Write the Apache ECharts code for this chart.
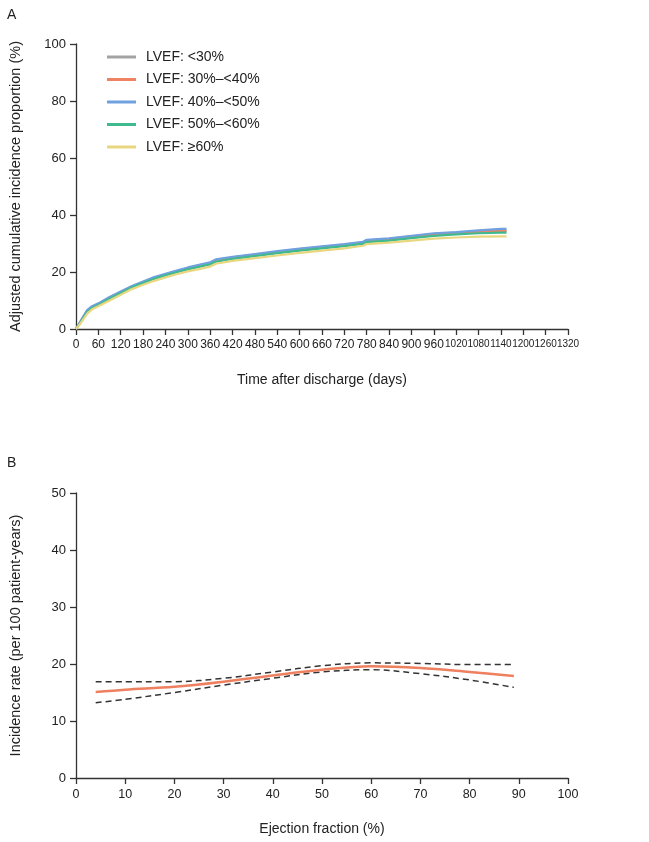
<!DOCTYPE html>
<html>
<head>
<meta charset="utf-8">
<script src="https://cdn.jsdelivr.net/npm/echarts@6/dist/echarts.min.js"></script>
<style>html,body{margin:0;padding:0;background:#fff;}#c{width:649px;height:842px;}</style>
</head>
<body>
<div id="c"></div>
<script>
// Panel A data
const days = [0, 10, 20, 30, 43, 60, 90, 120, 150, 180, 210, 240, 270, 300, 330, 360, 375, 420, 480, 540, 600, 660, 720, 770, 780, 840, 900, 960, 1020, 1080, 1140, 1155];
const lvefLt30 = [0, 2, 4, 6, 7.6, 8.6, 10.8, 12.8, 14.8, 16.3, 17.8, 19.0, 20.1, 21.1, 22.0, 22.9, 23.8, 24.8, 25.8, 26.8, 27.7, 28.5, 29.3, 30.2, 30.8, 31.3, 32.2, 33.0, 33.6, 34.0, 34.3, 34.3];
const lvef30to40 = [0, 2.2, 4.3, 6.4, 7.8, 8.8, 11.0, 13.0, 14.9, 16.5, 18.0, 19.2, 20.3, 21.4, 22.3, 23.2, 24.2, 25.1, 26.1, 27.1, 28.0, 28.8, 29.6, 30.4, 31.1, 31.6, 32.5, 33.3, 33.8, 34.2, 34.5, 34.5];
const lvef40to50 = [0, 2.3, 4.5, 6.6, 8.0, 9.0, 11.2, 13.2, 15.1, 16.7, 18.2, 19.4, 20.5, 21.6, 22.5, 23.4, 24.4, 25.3, 26.3, 27.3, 28.2, 29.0, 29.8, 30.6, 31.3, 31.8, 32.7, 33.6, 34.0, 34.6, 35.1, 35.1];
const lvef50to60 = [0, 1.9, 3.9, 5.9, 7.4, 8.4, 10.6, 12.6, 14.6, 16.1, 17.6, 18.8, 19.9, 20.9, 21.8, 22.7, 23.6, 24.6, 25.6, 26.6, 27.5, 28.3, 29.1, 29.9, 30.5, 31.0, 31.9, 32.7, 33.2, 33.6, 33.8, 33.8];
const lvefGe60 = [0, 1.6, 3.5, 5.4, 6.9, 8.0, 10.0, 12.0, 14.0, 15.5, 16.9, 18.1, 19.2, 20.2, 21.0, 21.9, 22.9, 23.9, 24.9, 25.8, 26.7, 27.5, 28.3, 29.2, 29.8, 30.3, 31.0, 31.7, 32.1, 32.4, 32.5, 32.5];
const seriesNames = ['LVEF: <30%', 'LVEF: 30%\u2013<40%', 'LVEF: 40%\u2013<50%', 'LVEF: 50%\u2013<60%', 'LVEF: \u226560%'];

// Panel B data
const efX = [4, 10, 20, 30, 40, 50, 60, 70, 80, 89];
const rate = [15.1, 15.5, 16.0, 16.9, 18.0, 19.0, 19.6, 19.3, 18.6, 17.9];
const rateUpper = [16.9, 16.9, 16.9, 17.5, 18.6, 19.7, 20.2, 20.1, 19.9, 19.9];
const rateLower = [13.2, 13.8, 15.0, 16.3, 17.5, 18.6, 19.0, 18.3, 17.2, 15.9];

const colors = ['#a3a3a3', '#ee8262', '#6fa0e0', '#3fba8f', '#e9d780'];
const FONT = 'Liberation Sans, Arial, Helvetica, sans-serif';
const pair = (xs, ys) => xs.map((x, i) => [x, ys[i]]);
const aSeries = [lvefLt30, lvef30to40, lvef40to50, lvef50to60, lvefGe60];

const axisCommon = {
  axisLine: { show: true, lineStyle: { color: '#333', width: 1.3 } },
  axisTick: { show: true, length: 6, lineStyle: { color: '#333', width: 1.3 } },
  splitLine: { show: false },
  nameTextStyle: { color: '#222', fontSize: 14, fontFamily: FONT },
};

const chart = echarts.init(document.getElementById('c'), null, { renderer: 'canvas' });
chart.setOption({
  animation: false,
  backgroundColor: '#fff',
  textStyle: { fontFamily: FONT },
  title: [
    { text: 'A', left: 2, top: 3, textStyle: { fontSize: 14, fontWeight: 'normal', color: '#222', fontFamily: FONT } },
    { text: 'B', left: 2, top: 451, textStyle: { fontSize: 14, fontWeight: 'normal', color: '#222', fontFamily: FONT } }
  ],
  legend: {
    data: seriesNames,
    orient: 'vertical',
    left: 102,
    top: 45,
    itemWidth: 29,
    itemHeight: 3,
    itemGap: 8.5,
    icon: 'rect',
    textStyle: { fontSize: 14, color: '#222', fontFamily: FONT, padding: [0, 0, 0, 5] }
  },
  grid: [
    { left: 75, top: 44, width: 493, height: 285, containLabel: false },
    { left: 75, top: 493, width: 493, height: 285, containLabel: false }
  ],
  xAxis: [
    Object.assign({}, axisCommon, {
      gridIndex: 0, type: 'value', min: 0, max: 1320, interval: 60,
      name: 'Time after discharge (days)', nameLocation: 'middle', nameGap: 44,
      axisLabel: {
        color: '#222', margin: 10, interval: 0, fontFamily: FONT, hideOverlap: false,
        showMaxLabel: true, showMinLabel: true,
        formatter: v => (v >= 1000 ? '{s|' + v + '}' : '{m|' + v + '}'),
        rich: { s: { fontSize: 10, fontFamily: FONT, color: '#222' }, m: { fontSize: 12, fontFamily: FONT, color: '#222' } }
      }
    }),
    Object.assign({}, axisCommon, {
      gridIndex: 1, type: 'value', min: 0, max: 100, interval: 10,
      name: 'Ejection fraction (%)', nameLocation: 'middle', nameGap: 44,
      axisLabel: { fontSize: 12.5, color: '#222', margin: 10, fontFamily: FONT }
    })
  ],
  yAxis: [
    Object.assign({}, axisCommon, {
      gridIndex: 0, type: 'value', min: 0, max: 100, interval: 20,
      name: 'Adjusted cumulative incidence proportion (%)', nameLocation: 'middle', nameGap: 53, nameRotate: 90,
      nameTextStyle: { color: '#222', fontSize: 14.5, fontFamily: FONT },
      axisLabel: { fontSize: 13, color: '#222', margin: 10, fontFamily: FONT }
    }),
    Object.assign({}, axisCommon, {
      gridIndex: 1, type: 'value', min: 0, max: 50, interval: 10,
      name: 'Incidence rate (per 100 patient-years)', nameLocation: 'middle', nameGap: 53, nameRotate: 90,
      nameTextStyle: { color: '#222', fontSize: 14.5, fontFamily: FONT },
      axisLabel: { fontSize: 13, color: '#222', margin: 10, fontFamily: FONT }
    })
  ],
  series: aSeries.map((vals, i) => ({
    name: seriesNames[i], type: 'line', xAxisIndex: 0, yAxisIndex: 0,
    data: pair(days, vals), symbol: 'none', color: colors[i],
    lineStyle: { width: 2.2, color: colors[i] }, z: 2 + i
  })).concat([
    {
      name: 'upper', type: 'line', xAxisIndex: 1, yAxisIndex: 1, data: pair(efX, rateUpper),
      symbol: 'none', smooth: 0.35, lineStyle: { width: 1.5, color: '#333', type: [6, 4] }
    },
    {
      name: 'lower', type: 'line', xAxisIndex: 1, yAxisIndex: 1, data: pair(efX, rateLower),
      symbol: 'none', smooth: 0.35, lineStyle: { width: 1.5, color: '#333', type: [6, 4] }
    },
    {
      name: 'rate', type: 'line', xAxisIndex: 1, yAxisIndex: 1, data: pair(efX, rate),
      symbol: 'none', smooth: 0.35, lineStyle: { width: 2.5, color: '#ee7f5f' }, z: 5
    }
  ])
});
</script>
</body>
</html>
